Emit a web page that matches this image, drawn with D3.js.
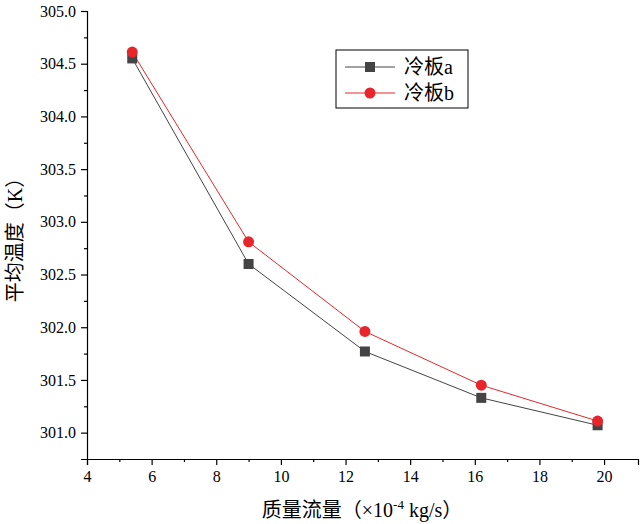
<!DOCTYPE html>
<html><head><meta charset="utf-8">
<script src="https://cdn.jsdelivr.net/npm/d3@7"></script>
<style>body{margin:0;background:#fff}</style>
</head><body>
<script>
const flow = [5.4, 9, 12.6, 16.2, 19.8];
const plateA = [304.55, 302.6, 301.77, 301.33, 301.07];
const plateB = [304.61, 302.81, 301.96, 301.45, 301.11];
const seriesNames = ["冷板a", "冷板b"];
const xTicks = [4, 6, 8, 10, 12, 14, 16, 18, 20];
const yTicks = [301.0, 301.5, 302.0, 302.5, 303.0, 303.5, 304.0, 304.5, 305.0];

let w = 640, h = 524;
let svg = d3.select("body").append("svg").attr("width", w).attr("height", h);
const serif = "'Liberation Serif', 'Noto Sans CJK SC', serif";

let x = d3.scaleLinear().domain([4, 21.05]).range([87, 638]);
let y = d3.scaleLinear().domain([300.75, 305]).range([459, 11]);

svg.append("g").attr("transform", "translate(0,459)")
    .call(d3.axisBottom(x).tickValues(xTicks).tickSize(6).tickPadding(6).tickFormat(d3.format("d")));
svg.append("g").attr("transform", "translate(0,459)")
    .call(d3.axisBottom(x).tickValues(d3.range(5, 21, 2)).tickSize(3).tickFormat(""))
    .select(".domain").remove();
svg.append("g").attr("transform", "translate(87,0)")
    .call(d3.axisLeft(y).tickValues(yTicks).tickSize(6).tickPadding(5).tickFormat(d3.format(".1f")));
svg.append("g").attr("transform", "translate(87,0)")
    .call(d3.axisLeft(y).tickValues(d3.range(301.25, 305, 0.5)).tickSize(3).tickFormat(""))
    .select(".domain").remove();
svg.selectAll(".tick text").attr("font-family", serif).attr("font-size", 16).attr("fill", "#000");
svg.selectAll(".domain, .tick line").attr("stroke", "#000").attr("stroke-width", 1.2);

let line = d3.line().x((d, i) => x(flow[i])).y(d => y(d));
const series = [
    {vals: plateA, color: "#444", shape: "sq"},
    {vals: plateB, color: "#e8252a", shape: "c"}
];
series.forEach(s => {
    svg.append("path").datum(s.vals).attr("d", line).attr("fill", "none")
        .attr("stroke", s.color).attr("stroke-width", 1);
});
series.forEach(s => {
    s.vals.forEach((v, i) => {
        if (s.shape === "sq") svg.append("rect").attr("x", x(flow[i]) - 5).attr("y", y(v) - 5)
            .attr("width", 10).attr("height", 10).attr("fill", s.color);
        else svg.append("circle").attr("cx", x(flow[i])).attr("cy", y(v)).attr("r", 5.5).attr("fill", s.color);
    });
});

// legend
let lg = svg.append("g");
lg.append("rect").attr("x", 336).attr("y", 50).attr("width", 132).attr("height", 58)
    .attr("fill", "#fff").attr("stroke", "#000").attr("stroke-width", 1);
series.forEach((s, i) => {
    let cy = 67 + i * 26;
    lg.append("line").attr("x1", 345).attr("x2", 395).attr("y1", cy).attr("y2", cy)
        .attr("stroke", s.color);
    if (s.shape === "sq") lg.append("rect").attr("x", 365).attr("y", cy - 5).attr("width", 10).attr("height", 10).attr("fill", s.color);
    else lg.append("circle").attr("cx", 370).attr("cy", cy).attr("r", 5.5).attr("fill", s.color);
    lg.append("text").attr("x", 404).attr("y", cy + 7).attr("font-family", serif)
        .attr("font-size", 20).text(seriesNames[i]);
});

// axis titles
svg.append("text").attr("transform", "translate(22,235) rotate(-90)").attr("text-anchor", "middle")
    .attr("font-family", serif).attr("font-size", 20).text("平均温度（K）");
let xt = svg.append("text").attr("x", 362).attr("y", 517).attr("text-anchor", "middle")
    .attr("font-family", serif).attr("font-size", 20);
xt.append("tspan").text("质量流量（×10");
xt.append("tspan").attr("font-size", 13).attr("dy", -8).text("-4");
xt.append("tspan").attr("dy", 8).text(" kg/s）");
</script>
</body></html>
